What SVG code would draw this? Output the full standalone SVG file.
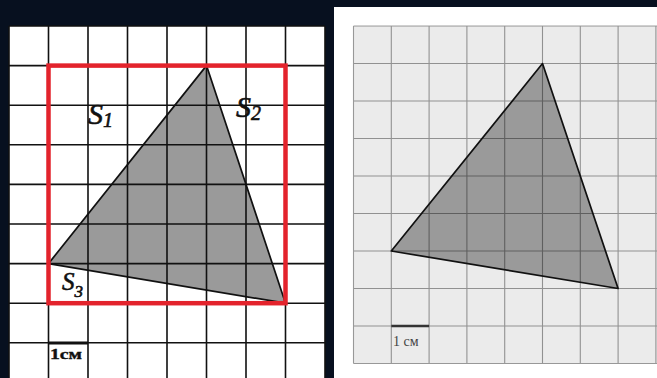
<svg xmlns="http://www.w3.org/2000/svg" width="657" height="378" viewBox="0 0 657 378">
<style>
.gridL{stroke:#111;stroke-width:1.6;fill:none}
.gridR{stroke:#000;stroke-opacity:0.38;stroke-width:1.1;fill:none}
.tri{fill:#9a9a9a;stroke:none}
.triEdge{fill:none;stroke:#111;stroke-width:1.7;stroke-linejoin:round}
.lab{font-family:"Liberation Serif","DejaVu Serif",serif;font-style:italic;fill:#111;stroke:#111;stroke-width:0.6}
</style>
<rect width="657" height="378" fill="#07101f"/>
<g id="left-panel">
<rect x="9" y="26" width="316" height="352" fill="#ffffff"/>
<polygon class="tri" points="206.5,65.6 48.5,263.6 285.5,303.2"/>
<path class="gridL" d="M9,26V378M48.5,26V378M88,26V378M127.5,26V378M167,26V378M206.5,26V378M246,26V378M285.5,26V378M325,26V378M9,26H325M9,65.6H325M9,105.2H325M9,144.8H325M9,184.4H325M9,224H325M9,263.6H325M9,303.2H325M9,342.8H325"/>
<polygon class="triEdge" points="206.5,65.6 48.5,263.6 285.5,303.2"/>
<rect x="48.5" y="65.6" width="237" height="237.6" fill="none" stroke="#e3232c" stroke-width="4.5"/>
<text class="lab" x="88" y="124" font-size="30">S<tspan font-size="20" dy="3">1</tspan></text>
<text class="lab" x="236" y="117" font-size="30">S<tspan font-size="20" dy="3">2</tspan></text>
<text class="lab" x="62" y="290" font-size="25">S<tspan font-size="17" dy="7">3</tspan></text>
<line x1="48.5" y1="343" x2="88" y2="343" stroke="#111" stroke-width="3"/>
<text x="50" y="359" font-family="Liberation Serif,DejaVu Serif,serif" font-weight="bold" font-size="15" fill="#111" stroke="#111" stroke-width="0.4" textLength="32" lengthAdjust="spacingAndGlyphs">1см</text>
</g>
<g id="right-panel">
<rect x="334" y="7" width="323" height="371" fill="#ffffff"/>
<rect x="353.5" y="26" width="303.5" height="337.5" fill="#ebebeb"/>
<polygon class="tri" points="542.5,63.5 391.3,251 618.1,288.5"/>
<path class="gridR" d="M353.5,26V363.5M391.3,26V363.5M429.1,26V363.5M466.9,26V363.5M504.7,26V363.5M542.5,26V363.5M580.3,26V363.5M618.1,26V363.5M655.9,26V363.5M353.5,26H657M353.5,63.5H657M353.5,101H657M353.5,138.5H657M353.5,176H657M353.5,213.5H657M353.5,251H657M353.5,288.5H657M353.5,326H657M353.5,363.5H657"/>
<polygon class="triEdge" points="542.5,63.5 391.3,251 618.1,288.5"/>
<line x1="391.3" y1="326" x2="429.1" y2="326" stroke="#333" stroke-width="2.5"/>
<text x="393" y="346" font-family="Liberation Serif,DejaVu Serif,serif" font-size="14" fill="#444">1 см</text>
</g>
</svg>
